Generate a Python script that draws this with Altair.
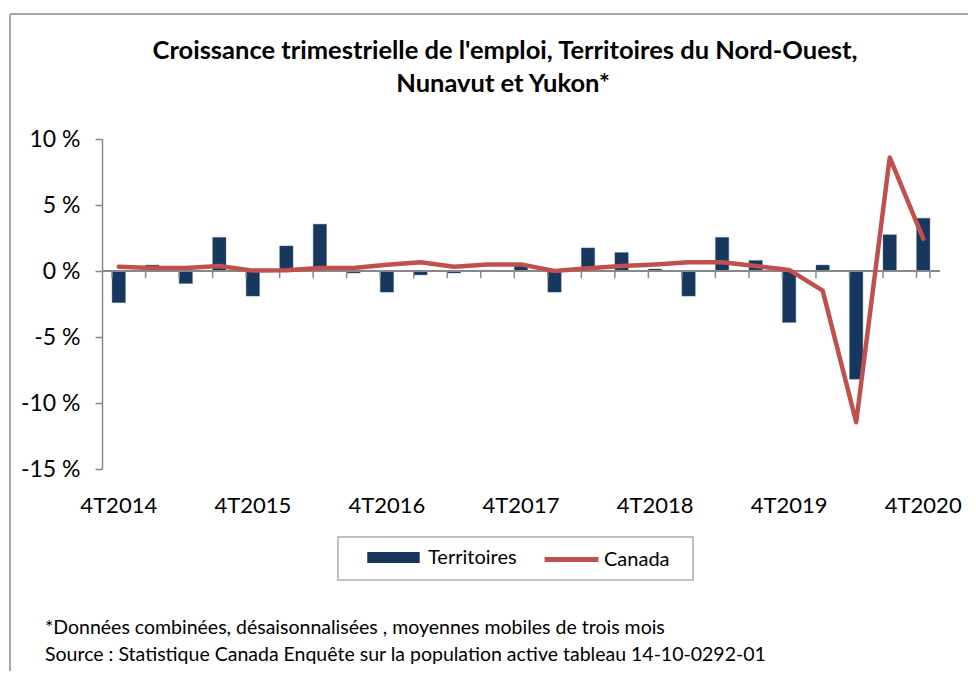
import altair as alt
import pandas as pd

quarters = ["4T2014", "1T2015", "2T2015", "3T2015", "4T2015", "1T2016", "2T2016", "3T2016",
            "4T2016", "1T2017", "2T2017", "3T2017", "4T2017", "1T2018", "2T2018", "3T2018",
            "4T2018", "1T2019", "2T2019", "3T2019", "4T2019", "1T2020", "2T2020", "3T2020", "4T2020"]
shown_labels = ["4T2014", "4T2015", "4T2016", "4T2017", "4T2018", "4T2019", "4T2020"]
territoires = [-2.4, 0.45, -0.95, 2.55, -1.9, 1.9, 3.55, -0.15, -1.6, -0.3, -0.15, 0.05, 0.45,
               -1.6, 1.75, 1.4, 0.15, -1.9, 2.55, 0.8, -3.9, 0.45, -8.2, 2.75, 4.0]
canada = [0.33, 0.23, 0.23, 0.38, 0.03, 0.05, 0.23, 0.23, 0.48, 0.66, 0.33, 0.5, 0.5,
          0.0, 0.2, 0.38, 0.5, 0.66, 0.66, 0.38, 0.08, -1.49, -11.46, 8.6, 2.45]
y_ticks = [-15, -10, -5, 0, 5, 10]
title1 = "Croissance trimestrielle de l'emploi, Territoires du Nord-Ouest,"
title2 = "Nunavut et Yukon*"
note1 = "*Données combinées, désaisonnalisées , moyennes mobiles de trois mois"
note2 = "Source :  Statistique Canada Enquête sur la population  active tableau 14-10-0292-01"

df_t = pd.DataFrame({"q": quarters, "v": territoires, "s": "Territoires"})
df_c = pd.DataFrame({"q": quarters, "v": canada, "s": "Canada"})
df_last = pd.DataFrame({"q": quarters[-1:]})
df_q = pd.DataFrame({"q": quarters})

W, H = 838, 330
FONT = "Lato"
GRAY = "#888888"

xscale = alt.Scale(domain=quarters, paddingInner=0.6, paddingOuter=0.3)
yscale = alt.Scale(domain=[-15, 10], nice=False, zero=False)

xaxis = alt.Axis(title=None, values=shown_labels, domain=False, ticks=False,
                 labelPadding=26, labelFontSize=22, labelFont=FONT,
                 labelColor="#000000", labelAngle=0)
yaxis = alt.Axis(title=None, values=y_ticks, grid=False,
                 domainColor=GRAY, domainWidth=1.5, tickColor=GRAY, tickWidth=1.5,
                 tickSize=7, labelPadding=15, labelFontSize=23, labelFont=FONT,
                 labelColor="#000000", labelExpr="datum.value + ' %'")

bars = alt.Chart(df_t).mark_bar(stroke="#5b7596", strokeWidth=0.4).encode(
    x=alt.X("q:N", scale=xscale, axis=xaxis, sort=quarters),
    y=alt.Y("v:Q", scale=yscale, axis=yaxis),
    fill=alt.Fill("s:N", scale=alt.Scale(domain=["Territoires"], range=["#17375E"]),
                  legend=alt.Legend(title=None, orient="none", legendX=265, legendY=392,
                                    symbolType="M-1,-0.21H1V0.21H-1Z", symbolSize=2750,
                                    symbolStrokeWidth=0, labelFont=FONT, labelFontSize=20,
                                    labelColor="#000000", labelOffset=8, padding=0)),
)

zero_line = alt.Chart(df_q).mark_rule(color=GRAY, strokeWidth=2).encode(
    y=alt.datum(0))
q_ticks = alt.Chart(df_q).mark_rule(color=GRAY, strokeWidth=1.5).encode(
    x=alt.X("q:N", scale=xscale, sort=quarters, bandPosition=0),
    y=alt.datum(0), y2=alt.datum(-0.55))
end_tick = alt.Chart(df_last).mark_rule(color=GRAY, strokeWidth=1.5).encode(
    x=alt.X("q:N", scale=xscale, sort=quarters, bandPosition=1),
    y=alt.datum(0), y2=alt.datum(-0.55))

line = alt.Chart(df_c).mark_line(strokeWidth=4.5, strokeCap="round", strokeJoin="round").encode(
    x=alt.X("q:N", scale=xscale, sort=quarters),
    y=alt.Y("v:Q", scale=yscale),
    stroke=alt.Stroke("s:N", scale=alt.Scale(domain=["Canada"], range=["#C0504D"]),
                      legend=alt.Legend(title=None, orient="none", legendX=440, legendY=391,
                                        symbolType="stroke", symbolSize=2900, symbolStrokeWidth=5,
                                        labelFont=FONT, labelFontSize=20, labelColor="#000000",
                                        labelOffset=3, padding=0)),
)

one = pd.DataFrame({"a": [0]})
legend_box = alt.Chart(one).mark_rect(fill="white", stroke="#c0c0c0", strokeWidth=2).encode(
    x=alt.value(236), x2=alt.value(591), y=alt.value(398), y2=alt.value(441))
frame_top = alt.Chart(one).mark_rule(color="#a6a6a6", strokeWidth=2).encode(
    x=alt.value(-92), x2=alt.value(900), y=alt.value(-125))
frame_left = alt.Chart(one).mark_rule(color="#a6a6a6", strokeWidth=2).encode(
    x=alt.value(-92), y=alt.value(-125), y2=alt.value(600))
head1 = alt.Chart(one).mark_text(align="center", baseline="middle", font=FONT, fontSize=25.5,
                                 fontWeight="bold", color="#000000").encode(
    x=alt.value(403), y=alt.value(-88), text=alt.value(title1))
head2 = alt.Chart(one).mark_text(align="center", baseline="middle", font=FONT, fontSize=25.5,
                                 fontWeight="bold", color="#000000").encode(
    x=alt.value(401), y=alt.value(-55), text=alt.value(title2))
foot1 = alt.Chart(one).mark_text(align="left", baseline="middle", font=FONT, fontSize=19.5,
                                 color="#000000").encode(
    x=alt.value(-57), y=alt.value(489), text=alt.value(note1))
foot2 = alt.Chart(one).mark_text(align="left", baseline="middle", font=FONT, fontSize=19.5,
                                 color="#000000").encode(
    x=alt.value(-57), y=alt.value(516), text=alt.value(note2))

chart = alt.layer(legend_box, bars, zero_line, q_ticks, end_tick, line,
                  frame_top, frame_left, head1, head2, foot1, foot2).properties(
    width=W, height=H,
    autosize=alt.AutoSizeParams(type="none"),
    padding={"left": 94, "top": 131, "right": 28, "bottom": 202},
).configure_view(strokeWidth=0)

chart.save("out.html", embed_options={"renderer": "svg", "actions": False})
